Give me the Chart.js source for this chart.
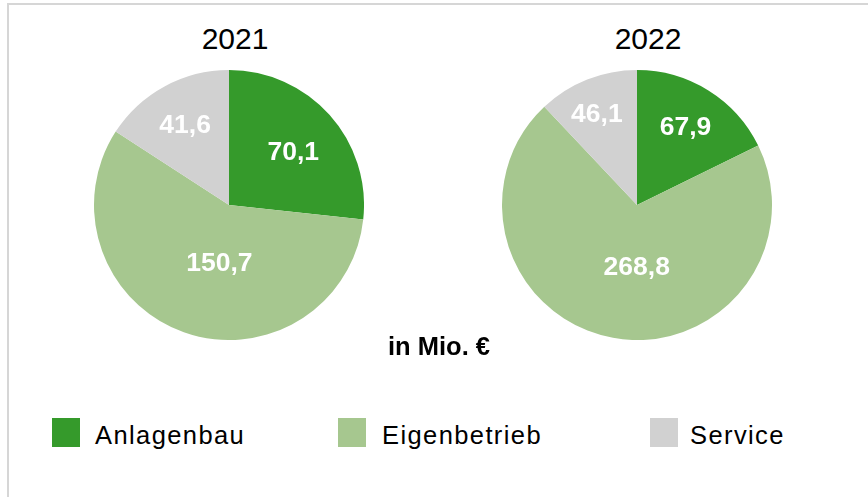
<!DOCTYPE html>
<html>
<head>
<meta charset="utf-8">
<script src="https://cdn.jsdelivr.net/npm/chart.js@4/dist/chart.umd.min.js"></script>
<style>
  body { margin: 0; width: 868px; height: 497px; overflow: hidden; background: #fff;
         font-family: "Liberation Sans", Arial, sans-serif; position: relative; }
  .frame { position: absolute; left: 7px; top: 3px; width: 900px; height: 600px;
           border-left: 2px solid #d6d6d6; border-top: 2px solid #d6d6d6; }
  .year { position: absolute; width: 200px; text-align: center; font-size: 30px; line-height: 30px; color: #000; }
  .unit { position: absolute; left: 339px; top: 334px; width: 200px; text-align: center;
          font-size: 25.5px; line-height: 25px; font-weight: bold; color: #000; }
  .pie { position: absolute; top: 70px; width: 270px; height: 270px; }
  .leg { position: absolute; top: 418px; height: 29px; }
  .leg span.box { position: absolute; left: 0; top: 0; width: 28px; height: 29px; }
  .leg span.txt { position: absolute; top: 5px; font-size: 25.5px; line-height: 25px; letter-spacing: 1.4px;
                  white-space: nowrap; color: #000; }
</style>
</head>
<body>
<div class="frame"></div>
<div class="year" style="left:135px; top:24px">2021</div>
<div class="year" style="left:548px; top:24px">2022</div>
<canvas id="pie2021" class="pie" width="270" height="270" style="left:94px"></canvas>
<canvas id="pie2022" class="pie" width="270" height="270" style="left:502px"></canvas>
<div class="unit">in Mio. €</div>
<div id="legend"></div>
<script>
const categories = ['Anlagenbau', 'Eigenbetrieb', 'Service'];
const values2021 = [70.1, 150.7, 41.6];
const values2022 = [67.9, 268.8, 46.1];
const colors = ['#359a2b', '#a6c78f', '#d1d1d1'];

const legendLeft = [52, 338, 650];
const legendTextGap = [43, 44, 40];

// value labels inside the slices, white bold, German decimal comma
const sliceLabels = {
  id: 'sliceLabels',
  afterDatasetsDraw(chart, args, opts) {
    const ctx = chart.ctx;
    const meta = chart.getDatasetMeta(0);
    const data = chart.data.datasets[0].data;
    ctx.save();
    ctx.fillStyle = '#fff';
    ctx.font = 'bold 26.5px "Liberation Sans", Arial, sans-serif';
    ctx.textAlign = 'center';
    ctx.textBaseline = 'middle';
    meta.data.forEach((arc, i) => {
      const p = opts.place[i];
      const mid = (arc.startAngle + arc.endAngle) / 2 + (p.da || 0) * Math.PI / 180;
      const r = arc.outerRadius * p.f;
      const x = arc.x + Math.cos(mid) * r;
      const y = arc.y + Math.sin(mid) * r;
      ctx.fillText(data[i].toFixed(1).replace('.', ','), x, y + 1);
    });
    ctx.restore();
  }
};

function makePie(id, values, place) {
  new Chart(document.getElementById(id), {
    type: 'pie',
    data: {
      labels: categories,
      datasets: [{ data: values, backgroundColor: colors, borderWidth: 0, hoverOffset: 0, offset: 0 }]
    },
    options: {
      responsive: false,
      animation: false,
      events: [],
      layout: { padding: 0 },
      plugins: {
        legend: { display: false },
        tooltip: { enabled: false },
        sliceLabels: { place: place }
      }
    },
    plugins: [sliceLabels]
  });
}

makePie('pie2021', values2021, [{ f: 0.62, da: 2 }, { f: 0.43, da: -10 }, { f: 0.68 }]);
makePie('pie2022', values2022, [{ f: 0.68 }, { f: 0.46, da: -10 }, { f: 0.74, da: -2 }]);

const legend = document.getElementById('legend');
categories.forEach((c, i) => {
  const item = document.createElement('div');
  item.className = 'leg';
  item.style.left = legendLeft[i] + 'px';
  item.innerHTML = '<span class="box" style="background:' + colors[i] + '"></span>' +
                   '<span class="txt" style="left:' + legendTextGap[i] + 'px">' + c + '</span>';
  legend.appendChild(item);
});
</script>
</body>
</html>
